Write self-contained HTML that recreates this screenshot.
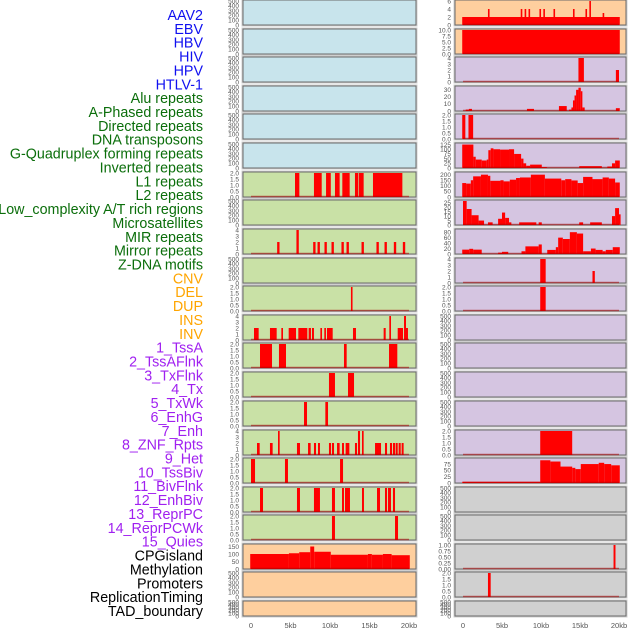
<!DOCTYPE html>
<html><head><meta charset="utf-8">
<style>
html,body{margin:0;padding:0;background:#fff;width:630px;height:630px;overflow:hidden}
svg{display:block;font-family:"Liberation Sans",sans-serif}
</style></head>
<body>
<svg id="chart" width="630" height="630" viewBox="0 0 630 630"></svg>
<script>
// ---- data ----
const labels = ["AAV2","EBV","HBV","HIV","HPV","HTLV-1","Alu repeats","A-Phased repeats","Directed repeats","DNA transposons","G-Quadruplex forming repeats","Inverted repeats","L1 repeats","L2 repeats","Low_complexity A/T rich regions","Microsatellites","MIR repeats","Mirror repeats","Z-DNA motifs","CNV","DEL","DUP","INS","INV","1_TssA","2_TssAFlnk","3_TxFlnk","4_Tx","5_TxWk","6_EnhG","7_Enh","8_ZNF_Rpts","9_Het","10_TssBiv","11_BivFlnk","12_EnhBiv","13_ReprPC","14_ReprPCWk","15_Quies","CPGisland","Methylation","Promoters","ReplicationTiming","TAD_boundary"];
const labelGroups = [6,13,5,15,5];
const groupColors = ["#1010f0","#0b6e0b","#ffa500","#a020f0","#000000"];
const xTickLabels = ["0","5kb","10kb","15kb","20kb"];
const xTickValues = [0,5,10,15,20];

const T500=[0,100,200,300,400,500], T2=[0,0.5,1,1.5,2], T4=[0,1,2,3,4];
function spikes(c,v,w){return c.map((x,i)=>[x-w/2,x+w/2,v[i]]);}

const L07=[[5.57,6.12,2],[7.97,8.95,2],[9.5,10.1,2],[10.63,11.22,2],[11.56,12.49,2],[13.16,13.59,2],[13.67,14.26,2],[15.44,19.16,2]];
const L09c=[3.46,5.9,8.02,8.57,9.45,10.34,11.6,12.24,14.14,16.03,17.05,18.23,19.37];
const L09v=[2,4,2,2,2,2,2,2,2,2,2,2,2];
const L11=[[12.65,12.85,2]];
const L12=[[0.38,0.97,2],[2.4,3.25,2],[3.84,4.05,2],[4.77,5.7,2],[5.99,7.13,2],[7.3,7.59,2],[7.72,7.97,2],[8.78,8.99,2],[9.28,9.49,2],[9.62,10.34,2],[12.91,13.29,2],[16.79,17.05,2],[18.57,19.24,2],[19.62,19.87,2],[17.51,17.72,4],[19.37,19.62,4]];
const L13=[[1.14,2.66,2],[3.54,4.43,2],[11.77,12.11,2],[17.47,18.52,2]];
const L14=[[9.87,10.63,2],[12.28,13.04,2]];
const L15=[[6.71,7.09,2],[9.41,9.75,2]];
const L16=[[0.76,1.1,2],[2.4,2.74,2],[5.82,6.2,2],[7.22,7.55,2],[7.97,8.23,2],[8.48,8.73,2],[9.87,10.13,2],[10.25,10.51,2],[10.89,11.22,2],[11.52,11.77,2],[11.98,12.45,2],[13.16,13.42,2],[15.7,16.46,2],[16.96,17.22,2],[17.59,17.85,2],[17.97,18.23,2],[18.31,18.57,2],[18.69,18.95,2],[19.07,19.32,2],[3.42,3.63,4],[13.54,13.8,4],[14.05,14.26,4]];
const L17=[[0,0.51,2],[4.3,4.68,2],[11.27,11.65,2]];
const L18=[[1.14,1.52,2],[5.82,6.2,2],[7.97,8.73,2],[10.25,10.63,2],[11.52,11.77,2],[11.9,12.53,2],[14.05,14.3,2],[15.95,16.33,2],[16.96,17.22,2],[17.34,17.72,2],[17.97,18.23,2]];
const L19=[[10.25,10.63,2],[18.23,18.61,2]];
const L20=[[-0.1,4.8,100],[4.8,6.1,105],[6.1,7.5,112],[7.5,8.0,150],[8.0,10.1,115],[10.1,14.8,95],[14.8,15.3,100],[15.3,16.7,95],[16.7,17.8,100],[17.8,20.1,92]];

const R01c=[3.3,7.5,8.0,8.5,9.9,10.4,11.7,14.2,15.8,16.3,18.0];
const R01v=[4,4,4,4,4,4,4,4,4,6,3];
const R02=[[-0.1,20.1,10]];
const R03=[[14.8,15.5,4],[19.6,20.0,2]];
const R04=[[0.35,0.75,2],[0.75,1.15,3],[8.2,9.1,3],[12.3,13.3,7],[13.6,13.9,2],[13.9,14.1,5],[14.1,14.3,15],[14.3,14.5,22],[14.5,14.8,30],[14.8,15.1,33],[15.1,15.3,28],[15.3,15.6,5],[19.6,20.1,4]];
const R05=[[-0.1,0.3,2],[0.7,1.3,2]];
const R06=[[-0.1,1.33,125],[1.33,1.63,60],[1.63,2.4,45],[2.4,3.04,40],[3.04,3.25,45],[3.25,3.55,95],[3.55,3.9,105],[3.9,4.75,100],[4.75,5.9,98],[5.9,6.55,100],[6.55,7.45,75],[7.45,7.75,50],[7.75,8.1,25],[8.1,8.6,12],[8.6,10.1,18],[10.1,10.75,5],[14.9,17.8,10],[18.5,19.1,8],[19.1,19.5,25],[19.5,20.1,40]];
const R07=[[-0.1,0.4,125],[0.4,1.0,120],[1.0,1.3,150],[1.3,2.3,185],[2.3,3.2,200],[3.2,3.5,190],[3.5,4.8,145],[4.8,5.2,150],[5.2,6.0,140],[6.0,6.8,155],[6.8,7.3,170],[7.3,8.7,175],[8.7,10.5,200],[10.5,12.6,165],[12.6,13.1,150],[13.1,13.9,160],[13.9,14.7,148],[14.7,15.4,125],[15.4,16.6,180],[16.6,17.9,160],[17.9,18.7,175],[18.7,19.5,165],[19.5,20.1,130]];
const R08=[[0,0.47,27],[0.47,1.1,18],[1.1,2,11],[2,2.7,5],[3.2,3.8,3],[4.5,5,7],[5,5.4,14],[5.4,5.9,8],[5.9,6.2,3],[7.2,9.4,3],[9.7,10.1,3],[14.9,15.4,3],[16.3,17.8,3],[19.1,19.5,10],[19.5,20,19],[20,20.1,12]];
const R09=[[-0.1,0.8,16],[0.8,1.3,19],[1.3,2.4,16],[4.5,5,5],[5,5.8,8],[7.5,8,10],[8,9.7,28],[9.7,10.1,35],[10.8,11.9,15],[11.9,12.2,25],[12.2,12.8,60],[12.8,13.7,55],[13.7,14.6,80],[14.6,15.4,75],[15.4,16.4,10],[16.4,17,20],[17,17.9,15],[17.9,18.3,10],[18.3,19.2,15],[19.2,20.1,25]];
const R10=[[9.9,10.6,4],[16.6,16.9,2]];
const R11=[[9.9,10.6,2]];
const R16=[[9.9,14.0,2]];
const R17=[[-0.1,9.9,5],[9.9,11.2,90],[11.2,12.5,85],[12.5,14,65],[14,14.4,60],[14.4,15.1,55],[15.1,17.4,75],[17.4,18.1,80],[18.1,19,75],[19,20.1,70]];
const R20=[[19.3,19.55,1]];
const R21=[[3.2,3.55,2]];

// ---- layout (not data) ----
const rowTops=[0,29,57,86,114,143,172,200,229,258,286,315,343,372,401,430,458,487,515,544,572,601];
const BG={blue:"#c8e4ec",green:"#c9e1a6",orange:"#fecf9e",purple:"#d5c5e1",grey:"#d0d0d0"};
const cols=[{x0:243,x1:416,z:251,t:409},{x0:455,x1:626,z:463,t:619}];

const panels=[];
function P(col,row,bg,data,ymax,ticks,dec){panels.push({col,row,bg,data,ymax,ticks,dec});}
for(let r=0;r<6;r++)P(0,r,"blue",null,500,T500,0);
P(0,6,"green",L07,2,T2,1);
P(0,7,"green",null,500,T500,0);
P(0,8,"green",spikes(L09c,L09v,0.3),4,T4,0);
P(0,9,"green",null,500,T500,0);
P(0,10,"green",L11,2,T2,1);
P(0,11,"green",L12,4,T4,0);
P(0,12,"green",L13,2,T2,1);
P(0,13,"green",L14,2,T2,1);
P(0,14,"green",L15,2,T2,1);
P(0,15,"green",L16,4,T4,0);
P(0,16,"green",L17,2,T2,1);
P(0,17,"green",L18,2,T2,1);
P(0,18,"green",L19,2,T2,1);
P(0,19,"orange",L20,160,[0,50,100,150],0);
P(0,20,"orange",null,500,T500,0);
P(0,21,"orange",null,500,T500,0);

P(1,0,"orange",[[-0.1,20.1,2]].concat(spikes(R01c,R01v,0.2)),6,[0,2,4,6],0);
P(1,1,"orange",R02,10,[0,2.5,5,7.5,10],1);
P(1,2,"purple",R03,4,T4,0);
P(1,3,"purple",R04,34,[0,10,20,30],0);
P(1,4,"purple",R05,2,T2,1);
P(1,5,"purple",R06,128,[0,25,50,75,100,125],0);
P(1,6,"purple",R07,215,[0,50,100,150,200],0);
P(1,7,"purple",R08,27,[0,5,10,15,20,25],0);
P(1,8,"purple",R09,88,[0,20,40,60,80],0);
P(1,9,"purple",R10,4,T4,0);
P(1,10,"purple",R11,2,T2,1);
for(let r=11;r<15;r++)P(1,r,"purple",null,500,T500,0);
P(1,15,"purple",R16,2,T2,1);
P(1,16,"purple",R17,95,[0,25,50,75],0);
P(1,17,"grey",null,500,T500,0);
P(1,18,"grey",null,500,T500,0);
P(1,19,"grey",R20,1,[0,0.25,0.5,0.75,1],2);
P(1,20,"grey",R21,2,T2,1);
P(1,21,"grey",null,500,T500,0);

// ---- render ----
const NS="http://www.w3.org/2000/svg";
const svg=document.getElementById("chart");
function mk(tag,attrs,parent){const e=document.createElementNS(NS,tag);for(const k in attrs)e.setAttribute(k,attrs[k]);(parent||svg).appendChild(e);return e;}

let li=0;
labelGroups.forEach((n,g)=>{for(let k=0;k<n;k++){const y=15+li*13.86;
 const t=mk("text",{x:203,y:y+5,"text-anchor":"end","font-size":"14.3",fill:groupColors[g]});
 t.textContent=labels[li];
 
 
 li++;}});

panels.forEach(p=>{
 const c=cols[p.col];const top=rowTops[p.row];const h=(p.row===21)?15:25;const bot=top+h;
 const xs=kb=>c.z+(kb/20)*(c.t-c.z);
 const ys=v=>bot-(v/p.ymax)*(h-1);
 const g=mk("g",{});
 
 
 mk("rect",{x:c.x0-1,y:top-1,width:c.x1-c.x0+2,height:h+2,fill:"none",stroke:"#cfcfcf","stroke-width":1},g);
 mk("rect",{x:c.x0,y:top,width:c.x1-c.x0,height:h,fill:BG[p.bg],stroke:"#6a6a6a","stroke-width":1},g);
 if(p.data){
  p.data.forEach(d=>{const x0=Math.max(xs(d[0]),c.x0+0.5),x1=Math.min(xs(d[1]),c.x1-0.5);
   const b=mk("rect",{x:x0,y:ys(d[2]),width:Math.max(x1-x0,1.6),height:bot-ys(d[2]),fill:"#ff0000"},g);
   
   });
  const bl=mk("line",{x1:xs(0),x2:xs(20),y1:bot-0.5,y2:bot-0.5,stroke:"rgba(170,0,0,0.55)","stroke-width":1.5},g);
  
  
 }
 p.ticks.forEach(v=>{const t=mk("text",{x:c.x0-4,y:ys(v)+2.3,"text-anchor":"end","font-size":"6.5",fill:"#555"},g);
  t.textContent=v.toFixed(p.dec);
  
  });
});

cols.forEach((c,ci)=>{xTickValues.forEach((v,i)=>{
 const t=mk("text",{x:c.z+(v/20)*(c.t-c.z),y:628,"text-anchor":"middle","font-size":"7.5",fill:"#555"});
 t.textContent=xTickLabels[i];
 
 });});
</script>
</body></html>
